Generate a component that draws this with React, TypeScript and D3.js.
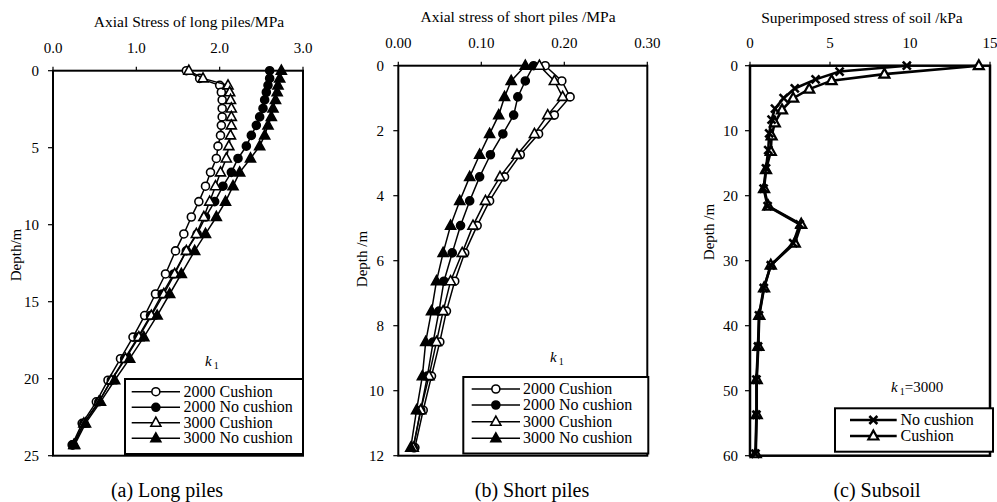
import React from "react";
import * as d3 from "d3";

const W = 997;
const H = 502;
const FONT = "'Liberation Serif', 'Times New Roman', serif";

// ---------- Panel (a) Long piles ----------
const depthLong = [0, 0.5, 0.95, 1.4, 1.9, 2.45, 3.0, 3.55, 4.2, 4.9, 5.7, 6.6, 7.5, 8.5, 9.5, 10.6, 11.7, 13.2, 14.5, 15.9, 17.3, 18.7, 20.1, 21.5, 22.9, 24.3];
const long2000Cushion = [1.60, 1.76, 2.00, 2.02, 2.03, 2.03, 2.03, 2.02, 2.01, 1.98, 1.96, 1.89, 1.83, 1.75, 1.66, 1.57, 1.47, 1.35, 1.23, 1.10, 0.96, 0.81, 0.66, 0.52, 0.35, 0.23];
const long2000NoCushion = [2.60, 2.60, 2.58, 2.56, 2.54, 2.52, 2.48, 2.44, 2.38, 2.32, 2.22, 2.14, 2.04, 1.94, 1.83, 1.73, 1.60, 1.45, 1.31, 1.17, 1.02, 0.86, 0.70, 0.55, 0.37, 0.24];
const long3000Cushion = [1.63, 1.80, 2.10, 2.12, 2.13, 2.14, 2.14, 2.14, 2.13, 2.11, 2.08, 2.01, 1.95, 1.88, 1.81, 1.72, 1.60, 1.46, 1.33, 1.18, 1.03, 0.87, 0.70, 0.55, 0.37, 0.25];
const long3000NoCushion = [2.74, 2.72, 2.70, 2.69, 2.67, 2.64, 2.62, 2.58, 2.54, 2.48, 2.37, 2.24, 2.16, 2.07, 1.96, 1.83, 1.70, 1.54, 1.40, 1.25, 1.09, 0.92, 0.74, 0.57, 0.39, 0.26];
const longXTicks = [0, 1, 2, 3];
const longYTicks = [0, 5, 10, 15, 20, 25];

// ---------- Panel (b) Short piles ----------
const depthShort = [0, 0.47, 0.96, 1.52, 2.1, 2.74, 3.42, 4.16, 4.92, 5.76, 6.63, 7.55, 8.5, 9.55, 10.6, 11.75];
const short2000Cushion = [0.177, 0.197, 0.207, 0.188, 0.169, 0.147, 0.128, 0.110, 0.095, 0.080, 0.068, 0.058, 0.050, 0.040, 0.030, 0.020];
const short2000NoCushion = [0.163, 0.153, 0.144, 0.139, 0.126, 0.111, 0.098, 0.086, 0.075, 0.065, 0.055, 0.049, 0.042, 0.035, 0.027, 0.018];
const short3000Cushion = [0.170, 0.188, 0.198, 0.180, 0.164, 0.143, 0.1225, 0.105, 0.090, 0.077, 0.063, 0.054, 0.046, 0.037, 0.027, 0.018];
const short3000NoCushion = [0.153, 0.136, 0.128, 0.121, 0.110, 0.098, 0.086, 0.074, 0.063, 0.054, 0.046, 0.040, 0.033, 0.029, 0.022, 0.015];
const shortXTicks = [0, 0.1, 0.2, 0.3];
const shortYTicks = [0, 2, 4, 6, 8, 10, 12];

// ---------- Panel (c) Subsoil ----------
const depthSoilNoCushion = [0, 0.9, 2.1, 3.5, 5.0, 6.6, 8.3, 10.4, 13.0, 15.8, 18.9, 21.6, 24.4, 27.3, 30.7, 34.2, 38.4, 43.2, 48.3, 53.7, 59.7];
const soilNoCushion = [9.8, 5.6, 4.1, 2.8, 2.1, 1.56, 1.35, 1.2, 1.14, 1.0, 0.85, 1.1, 3.1, 2.7, 1.3, 0.86, 0.56, 0.5, 0.40, 0.40, 0.34];
const depthSoilCushion = [0, 1.3, 2.3, 3.6, 5.0, 6.8, 8.8, 10.8, 13.2, 16.0, 18.9, 21.6, 24.4, 27.3, 30.7, 34.2, 38.4, 43.2, 48.3, 53.7, 59.7];
const soilCushion = [14.3, 8.4, 5.1, 3.7, 2.7, 2.0, 1.55, 1.35, 1.3, 1.0, 0.88, 1.14, 3.2, 2.8, 1.3, 0.88, 0.58, 0.52, 0.42, 0.42, 0.36];
const soilXTicks = [0, 5, 10, 15];
const soilYTicks = [0, 10, 20, 30, 40, 50, 60];

type MarkerType = "circleOpen" | "circleFilled" | "triOpen" | "triFilled" | "cross";

interface Series {
  name: string;
  depth: number[];
  values: number[];
  marker: MarkerType;
}

function Marker({ type, x, y, sw = 1.6 }: { type: MarkerType; x: number; y: number; sw?: number }) {
  if (type === "circleOpen" || type === "circleFilled") {
    return <circle cx={x} cy={y} r={4} fill={type === "circleOpen" ? "white" : "black"} stroke="black" strokeWidth={sw} />;
  }
  if (type === "triOpen" || type === "triFilled") {
    const p = `M${x},${y - 5.5}L${x + 5},${y + 3.5}L${x - 5},${y + 3.5}Z`;
    return <path d={p} fill={type === "triOpen" ? "white" : "black"} stroke="black" strokeWidth={sw} />;
  }
  const s = 4;
  return (
    <g stroke="black" strokeWidth={2.6}>
      <line x1={x - s} y1={y - s} x2={x + s} y2={y + s} />
      <line x1={x - s} y1={y + s} x2={x + s} y2={y - s} />
    </g>
  );
}

interface PanelProps {
  x0: number; x1: number; y0: number; y1: number;
  xDomain: [number, number]; yDomain: [number, number];
  xTicks: number[]; yTicks: number[];
  xFmt: (v: number) => string;
  title: string; titleX: number; titleY: number;
  yLabel: string; yLabelX: number; yLabelY: number;
  caption: string; captionX: number;
  series: Series[];
  drawOrder: number[];
  lineWidth: number; frameWidth: number; markerStroke: number;
  yLabelRight: number;
  legend: { x: number; y: number; w: number; h: number; rows: number[]; lx0: number; lx1: number; tx: number };
  kX: number; kY: number; kText: string;
}

function Panel(p: PanelProps) {
  const xs = d3.scaleLinear().domain(p.xDomain).range([p.x0, p.x1]);
  const ys = d3.scaleLinear().domain(p.yDomain).range([p.y0, p.y1]);
  const line = d3.line<[number, number]>().x((d) => xs(d[0])).y((d) => ys(d[1]));
  return (
    <g>
      <text x={p.titleX} y={p.titleY} textAnchor="middle" fontSize={15.5}>{p.title}</text>
      {p.xTicks.map((t) => (
        <g key={"xt" + t}>
          <line x1={xs(t)} x2={xs(t)} y1={p.y0} y2={p.y0 - 4} stroke="black" strokeWidth={1.2} />
          <text x={xs(t)} y={p.y0 - 18} textAnchor="middle" fontSize={15}>{p.xFmt(t)}</text>
        </g>
      ))}
      {p.yTicks.map((t) => (
        <g key={"yt" + t}>
          <line x1={p.x0 - 5} x2={p.x0} y1={ys(t)} y2={ys(t)} stroke="black" strokeWidth={1.2} />
          <text x={p.yLabelRight} y={ys(t) + 5} textAnchor="end" fontSize={15}>{t}</text>
        </g>
      ))}
      <text transform={`translate(${p.yLabelX},${p.yLabelY}) rotate(-90)`} textAnchor="middle" fontSize={15}>{p.yLabel}</text>
      <rect x={p.x0} y={p.y0} width={p.x1 - p.x0} height={p.y1 - p.y0} fill="none" stroke="black" strokeWidth={p.frameWidth} />
      {p.drawOrder.map((idx) => {
        const s = p.series[idx];
        const pts = s.values.map((v, i) => [v, s.depth[i]] as [number, number]);
        return (
          <g key={s.name}>
            <path d={line(pts) || ""} fill="none" stroke="black" strokeWidth={p.lineWidth} />
            {pts.map((d, i) => (
              <Marker key={i} type={s.marker} x={xs(d[0])} y={ys(d[1])} sw={p.markerStroke} />
            ))}
          </g>
        );
      })}
      <text x={p.kX} y={p.kY} fontSize={15}>
        <tspan fontStyle="italic">k</tspan>
        <tspan fontSize={10} dx={2} dy={3}>1</tspan>
        {p.kText ? <tspan dy={-3}>{p.kText}</tspan> : null}
      </text>
      <rect x={p.legend.x} y={p.legend.y} width={p.legend.w} height={p.legend.h} fill="white" stroke="black" strokeWidth={2} />
      {p.series.map((s, i) => {
        const ry = p.legend.rows[i];
        return (
          <g key={"lg" + s.name}>
            <line x1={p.legend.lx0} x2={p.legend.lx1} y1={ry} y2={ry} stroke="black" strokeWidth={p.lineWidth} />
            <Marker type={s.marker} x={(p.legend.lx0 + p.legend.lx1) / 2} y={ry} sw={p.markerStroke} />
            <text x={p.legend.tx} y={ry + 5} fontSize={16}>{s.name}</text>
          </g>
        );
      })}
      <text x={p.captionX} y={497} textAnchor="middle" fontSize={20}>{p.caption}</text>
    </g>
  );
}

export default function App() {
  const f1 = d3.format(".1f");
  const f2 = d3.format(".2f");
  const fd = d3.format("d");
  const longSeries: Series[] = [
    { name: "2000 Cushion", depth: depthLong, values: long2000Cushion, marker: "circleOpen" },
    { name: "2000 No cushion", depth: depthLong, values: long2000NoCushion, marker: "circleFilled" },
    { name: "3000 Cushion", depth: depthLong, values: long3000Cushion, marker: "triOpen" },
    { name: "3000 No cushion", depth: depthLong, values: long3000NoCushion, marker: "triFilled" },
  ];
  const shortSeries: Series[] = [
    { name: "2000 Cushion", depth: depthShort, values: short2000Cushion, marker: "circleOpen" },
    { name: "2000 No cushion", depth: depthShort, values: short2000NoCushion, marker: "circleFilled" },
    { name: "3000 Cushion", depth: depthShort, values: short3000Cushion, marker: "triOpen" },
    { name: "3000 No cushion", depth: depthShort, values: short3000NoCushion, marker: "triFilled" },
  ];
  const soilSeries: Series[] = [
    { name: "No cushion", depth: depthSoilNoCushion, values: soilNoCushion, marker: "cross" },
    { name: "Cushion", depth: depthSoilCushion, values: soilCushion, marker: "triOpen" },
  ];
  return (
    <svg width={W} height={H} style={{ position: "absolute", left: 0, top: 0, background: "white" }} fontFamily={FONT}>
      <rect width={W} height={H} fill="white" />
      <Panel
        x0={53} x1={303} y0={70.7} y1={455.7}
        xDomain={[0, 3]} yDomain={[0, 25]}
        xTicks={longXTicks} yTicks={longYTicks} xFmt={f1}
        title="Axial Stress of long piles/MPa" titleX={189} titleY={27}
        yLabel="Depth/m" yLabelX={21} yLabelY={255} yLabelRight={39}
        caption="(a) Long piles" captionX={167}
        series={longSeries} drawOrder={[0, 1, 2, 3]} lineWidth={1.5} frameWidth={2} markerStroke={1.6}
        legend={{ x: 125, y: 379, w: 178, h: 75, rows: [391.7, 407.3, 422.7, 438.3], lx0: 131.7, lx1: 180, tx: 183.5 }}
        kX={205} kY={366} kText=""
      />
      <Panel
        x0={398.3} x1={647.3} y0={65.7} y1={455.7}
        xDomain={[0, 0.3]} yDomain={[0, 12]}
        xTicks={shortXTicks} yTicks={shortYTicks} xFmt={f2}
        title="Axial stress of short piles /MPa" titleX={518} titleY={22}
        yLabel="Depth /m" yLabelX={367} yLabelY={259} yLabelRight={384}
        caption="(b) Short piles" captionX={532}
        series={shortSeries} drawOrder={[0, 1, 2, 3]} lineWidth={1.5} frameWidth={2} markerStroke={1.6}
        legend={{ x: 463.3, y: 377, w: 185, h: 76.5, rows: [389, 405, 421.7, 438.3], lx0: 471.7, lx1: 520, tx: 523 }}
        kX={550} kY={362} kText=""
      />
      <Panel
        x0={750} x1={990} y0={65.7} y1={455.7}
        xDomain={[0, 15]} yDomain={[0, 60]}
        xTicks={soilXTicks} yTicks={soilYTicks} xFmt={fd}
        title="Superimposed stress of soil /kPa" titleX={862} titleY={23}
        yLabel="Depth /m" yLabelX={714} yLabelY={232} yLabelRight={738}
        caption="(c) Subsoil" captionX={877}
        series={soilSeries} drawOrder={[1, 0]} lineWidth={2.6} frameWidth={2.5} markerStroke={2.2}
        legend={{ x: 835, y: 408.3, w: 158, h: 43.4, rows: [420, 436], lx0: 850, lx1: 896.7, tx: 900.5 }}
        kX={891} kY={392} kText="=3000"
      />
    </svg>
  );
}
